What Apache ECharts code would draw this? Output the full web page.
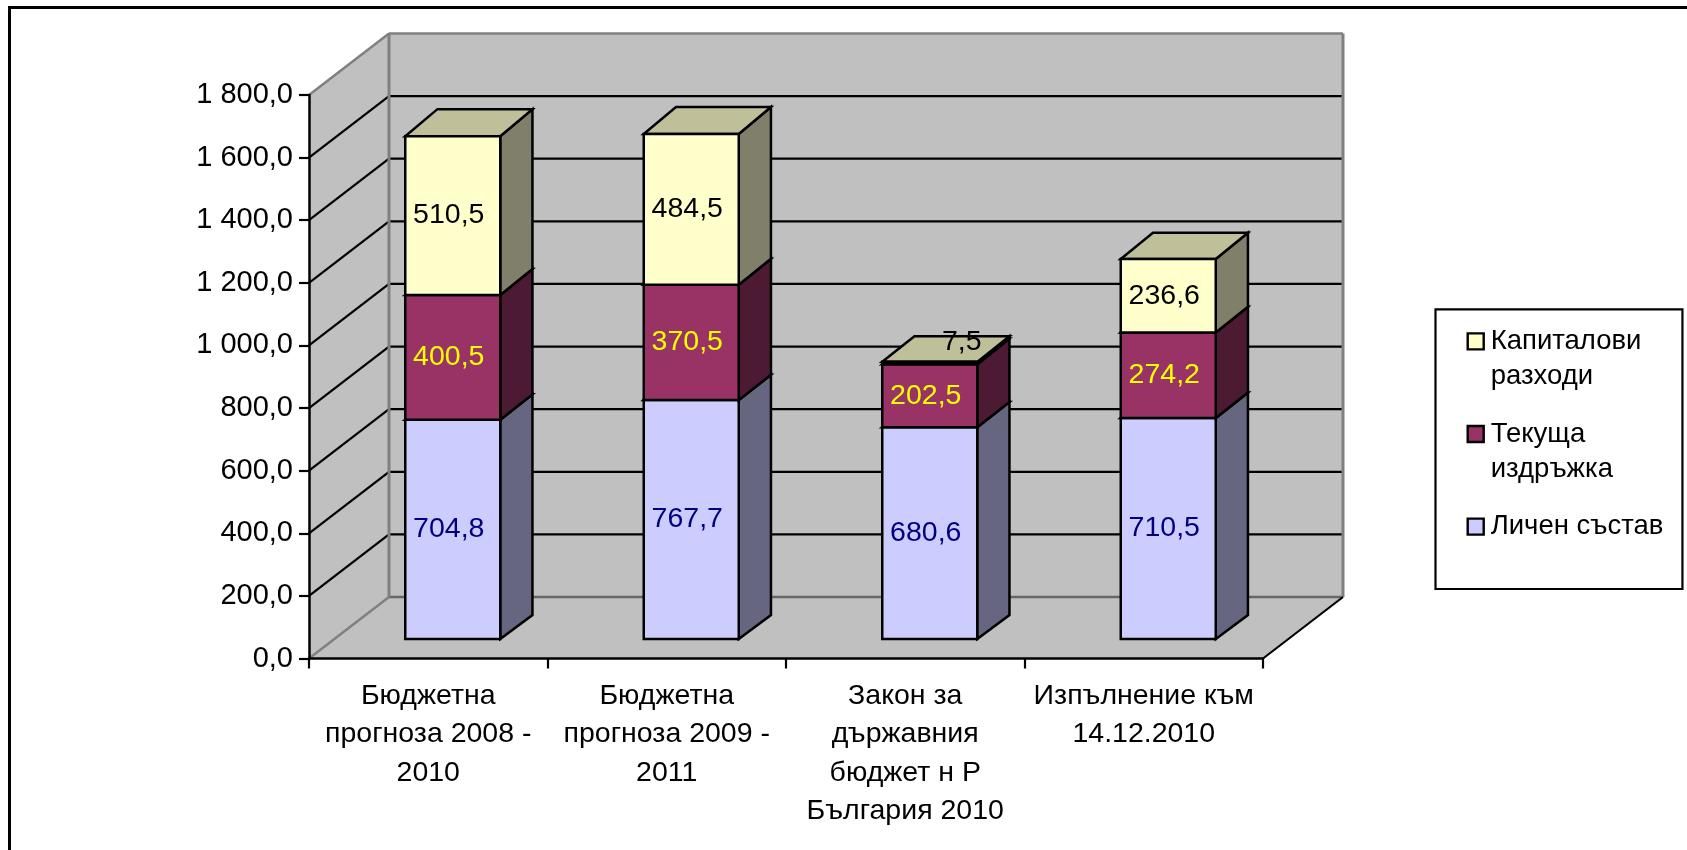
<!DOCTYPE html>
<html>
<head>
<meta charset="utf-8">
<style>html,body{margin:0;padding:0;background:#fff}#c{width:1687px;height:850px}</style>
<script src="https://cdn.jsdelivr.net/npm/echarts@6/dist/echarts.min.js"></script>
</head>
<body>
<div id="c"></div>
<script>
const categories = ['Бюджетна\nпрогноза 2008 -\n2010', 'Бюджетна\nпрогноза 2009 -\n2011', 'Закон за\nдържавния\nбюджет н Р\nБългария 2010', 'Изпълнение към\n14.12.2010'];
const personnel = [704.8, 767.7, 680.6, 710.5];
const upkeep = [400.5, 370.5, 202.5, 274.2];
const capital = [510.5, 484.5, 7.5, 236.6];
const yTicks = [0, 200, 400, 600, 800, 1000, 1200, 1400, 1600, 1800];
const seriesNames = ['Капиталови\nразходи', 'Текуща\nиздръжка', 'Личен състав'];

const FONT = '"Liberation Sans", Arial, sans-serif';
const WALL_DX = 80, WALL_DY = 61.5;
const BAR_SHIFT_DX = 24.5, BAR_SHIFT_DY = 19.5;
const BAR_DX = 32.2, BAR_DY = 24;
const BAR_WIDTH_RATIO = 95 / 238.5;
const FRONT_SCALE = 0.994;   // the front faces stand slightly smaller than the wall scale
const WALL = '#C0C0C0', GREY = '#808080';

const fmt = v => {
  const s = v.toFixed(1).replace('.', ',');
  return v >= 1000 ? s[0] + ' ' + s.slice(1) : s;
};

function line(x1, y1, x2, y2, stroke, lineWidth) {
  return { type: 'line', shape: { x1, y1, x2, y2 }, style: { stroke, lineWidth } };
}
function poly(points, fill, stroke, lineWidth) {
  return { type: 'polygon', shape: { points }, style: { fill, stroke, lineWidth: lineWidth || 0, lineJoin: 'miter' } };
}

function renderWalls(params) {
  const r = params.coordSys;
  const L = r.x, R = r.x + r.width, T = r.y, B = r.y + r.height;
  return { type: 'group', silent: true, children: [
    poly([[L, B], [L + WALL_DX, B - WALL_DY], [L + WALL_DX, T - WALL_DY], [L, T]], WALL),
    poly([[L + WALL_DX, B - WALL_DY], [R + WALL_DX, B - WALL_DY], [R + WALL_DX, T - WALL_DY], [L + WALL_DX, T - WALL_DY]], WALL),
    poly([[L, B], [R, B], [R + WALL_DX, B - WALL_DY], [L + WALL_DX, B - WALL_DY]], WALL)
  ] };
}

function renderGridLine(params, api) {
  const r = params.coordSys;
  const v = api.value(1);
  const y = api.coord([0, v])[1];
  const L = r.x, R = r.x + r.width;
  const edge = v === yTicks[0] || v === yTicks[yTicks.length - 1];
  const color = edge ? GREY : '#000';
  const children = [
    line(L + WALL_DX, y - WALL_DY, R + WALL_DX, y - WALL_DY, v === yTicks[0] ? '#666' : color, edge ? 2.5 : 2.2),
    line(L, y, L + WALL_DX, y - WALL_DY, color, edge ? 2.5 : 2.2)
  ];
  if (v === yTicks[yTicks.length - 1]) {
    const bottom = api.coord([0, yTicks[0]])[1];
    children.push(line(L + WALL_DX, y - WALL_DY, L + WALL_DX, bottom - WALL_DY, GREY, 3));
    children.push(line(R + WALL_DX, y - WALL_DY, R + WALL_DX, bottom - WALL_DY, GREY, 3));
    children.push(line(R, bottom, R + WALL_DX, bottom - WALL_DY, '#000', 2.2));
  }
  return { type: 'group', silent: true, children };
}

function barRenderer(colors) {
  return function (params, api) {
    const cat = api.value(0), top = api.value(1), base = api.value(2), val = api.value(3);
    const band = api.size([1, 0])[0];
    const w = band * BAR_WIDTH_RATIO;
    const p0 = api.coord([cat, 0]), pTop = api.coord([cat, top]), pBase = api.coord([cat, base]);
    const x0 = pTop[0] + BAR_SHIFT_DX - w / 2, x1 = x0 + w;
    const y0 = p0[1] - BAR_SHIFT_DY;
    const yT = y0 - (p0[1] - pTop[1]) * FRONT_SCALE, yB = y0 - (p0[1] - pBase[1]) * FRONT_SCALE;
    const bT = y0 - BAR_DY - (p0[1] - pTop[1]), bB = y0 - BAR_DY - (p0[1] - pBase[1]);
    const small = val < 20;
    const lx = small ? x0 + w / 2 + 32 : x0 + w / 2 - 4;
    const ly = small ? yT - 20 : (yT + yB) / 2;
    return { type: 'group', silent: true, children: [
      poly([[x1, yB], [x1 + BAR_DX, bB], [x1 + BAR_DX, bT], [x1, yT]], colors.side, '#000', 2.5),
      poly([[x0, yT], [x1, yT], [x1 + BAR_DX, bT], [x0 + BAR_DX, bT]], colors.top, '#000', 2.5),
      poly([[x0, yB], [x1, yB], [x1, yT], [x0, yT]], colors.front, '#000', 2.5),
      { type: 'text', style: { x: lx, y: ly, text: fmt(val), fill: colors.label, font: '28.5px ' + FONT, textAlign: 'center', textVerticalAlign: 'middle' } }
    ] };
  };
}

const stackBase = (i, arrs) => arrs.reduce((s, a) => s + a[i], 0);
const barData = (vals, below) => vals.map((v, i) => {
  const b = stackBase(i, below);
  return [i, b + v, b, v];
});
const barSeries = (name, vals, below, colors, z) => ({
  name, type: 'custom', coordinateSystem: 'cartesian2d', clip: false, z,
  renderItem: barRenderer(colors), data: barData(vals, below),
  encode: { x: 0, y: [1, 2] }, itemStyle: { color: colors.front, borderColor: '#000' }
});

const C_CAP = { front: '#FFFFCC', side: '#80806A', top: '#BFBF99', label: '#000' };
const C_UPK = { front: '#993366', side: '#4D1A33', top: '#732650', label: '#FFFF00' };
const C_PER = { front: '#CCCCFF', side: '#666680', top: '#9999BF', label: '#000080' };

// Legend swatch: a square in a transparent box so it lines up with the first text line
const ICON = 'path://M0 0L0 0M18 70L18 70M0 9.5H16V25.5H0Z';
const legendItem = (name, color) => ({
  name, icon: ICON,
  itemStyle: { color, borderColor: '#000', borderWidth: 2.4 }
});

const option = {
  animation: false,
  backgroundColor: '#fff',
  grid: { left: 309, right: 424, top: 95, bottom: 191.5, containLabel: false },
  xAxis: {
    type: 'category', data: categories, z: 5,
    axisLine: { lineStyle: { color: '#000', width: 2.5 } },
    axisTick: { show: true, length: 10, lineStyle: { color: '#000', width: 2.2 }, alignWithLabel: false },
    axisLabel: { interval: 0, margin: 18, color: '#000', fontFamily: FONT, fontSize: 28.5, lineHeight: 38.6, hideOverlap: false },
    splitLine: { show: false }
  },
  yAxis: {
    type: 'value', min: 0, max: 1800, interval: 200, z: 5,
    axisLine: { show: true, lineStyle: { color: '#000', width: 2.5 } },
    axisTick: { show: true, length: 10, lineStyle: { color: '#000', width: 2.2 } },
    axisLabel: { margin: 16, color: '#000', fontFamily: FONT, fontSize: 29, padding: [6, 0, 0, 0], formatter: v => fmt(v) },
    splitLine: { show: false }
  },
  legend: {
    orient: 'vertical', left: 1435.5, top: 309.3,
    padding: [13.4, 19, 8.7, 31], itemGap: 20.2,
    itemWidth: 18, itemHeight: 70,
    backgroundColor: '#fff', borderColor: '#000', borderWidth: 2.2, borderRadius: 0,
    selectedMode: false,
    formatter: n => n.indexOf('\n') >= 0 ? n : n + '\n ',
    textStyle: { color: '#000', fontFamily: FONT, fontSize: 27.5, lineHeight: 35, padding: 0 },
    data: [
      legendItem(seriesNames[0], C_CAP.front),
      legendItem(seriesNames[1], C_UPK.front),
      legendItem(seriesNames[2], C_PER.front)
    ]
  },
  graphic: [{
    type: 'polyline', silent: true, z: 100,
    shape: { points: [[9.5, 850], [9.5, 7.5], [1687, 7.5]] },
    style: { stroke: '#000', lineWidth: 3, fill: null }
  }],
  series: [
    { name: 'walls', type: 'custom', coordinateSystem: 'cartesian2d', clip: false, z: 1, renderItem: renderWalls, data: [[0, 0]], encode: { x: 0, y: 1 } },
    { name: 'grid', type: 'custom', coordinateSystem: 'cartesian2d', clip: false, z: 2, renderItem: renderGridLine, data: yTicks.map(t => [0, t]), encode: { x: 0, y: 1 } },
    barSeries(seriesNames[2], personnel, [], C_PER, 3),
    barSeries(seriesNames[1], upkeep, [personnel], C_UPK, 4),
    barSeries(seriesNames[0], capital, [personnel, upkeep], C_CAP, 6)
  ]
};
const chart = echarts.init(document.getElementById('c'), null, { renderer: 'canvas' });
chart.setOption(option);
</script>
</body>
</html>
